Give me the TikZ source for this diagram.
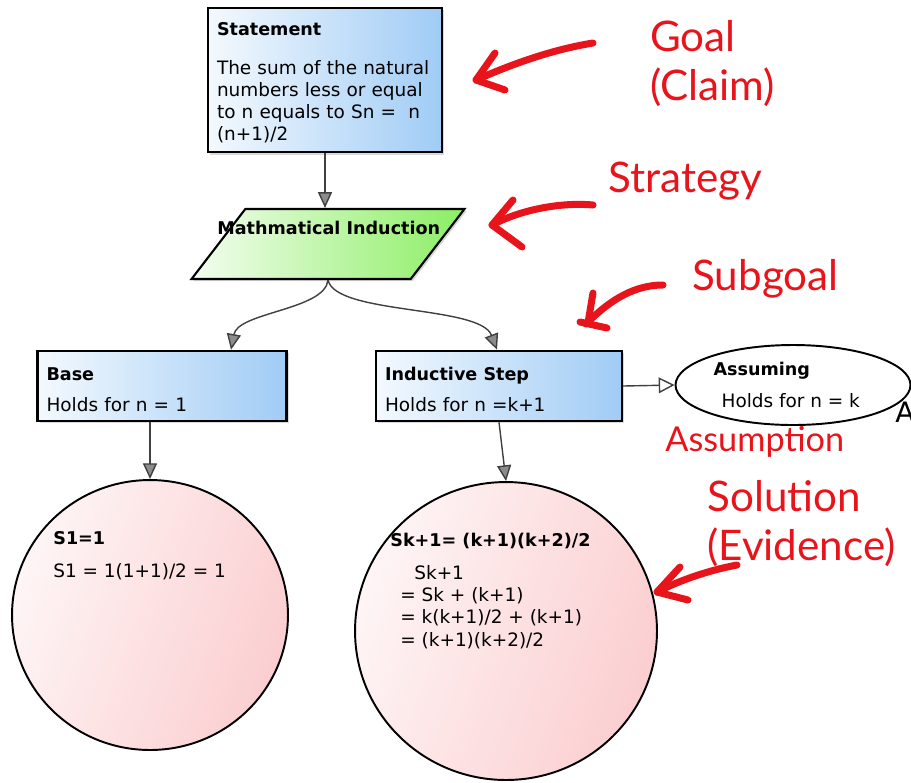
\documentclass[tikz,border=0pt]{standalone}
\usepackage{fontspec}
\setmainfont{DejaVu Sans}
\newfontfamily\notefont{Lato}
\usetikzlibrary{arrows.meta,shapes.geometric,shadows}
\definecolor{boxblue}{RGB}{160,204,245}
\definecolor{boxgreen}{RGB}{140,238,100}
\definecolor{solpink}{RGB}{251,206,208}
\definecolor{notered}{RGB}{232,20,28}
\newcommand\headtxt[1]{{\fontsize{10}{12}\selectfont\bfseries #1}}

\begin{document}
\begin{tikzpicture}[x=0.02cm,y=-0.02cm,
    font=\fontsize{10.5}{12.7}\selectfont,
    claimbox/.style={rectangle, draw=black, line width=1.2pt,
      left color=boxblue!12, right color=boxblue, inner sep=0.18cm, align=left,
      drop shadow={shadow xshift=1.2pt, shadow yshift=-1.2pt, opacity=.3}},
    stratbox/.style={trapezium, trapezium left angle=72, trapezium right angle=108,
      trapezium stretches=true, draw=black, line width=1.2pt,
      left color=boxgreen!10, right color=boxgreen,
      drop shadow={shadow xshift=1.2pt, shadow yshift=-1.2pt, opacity=.3}},
    solnode/.style={ellipse, draw=black, line width=1.1pt,
      left color=solpink!20, right color=solpink, shading angle=70},
    asmnode/.style={ellipse, draw=black, line width=1.1pt, fill=white, align=left, inner sep=0pt},
    txt/.style={inner sep=0, anchor=base west, align=left},
    link/.style={draw=black!75, line width=0.8pt,
      -{Triangle[length=9pt, width=8pt, fill=black!45]}},
    note/.style={notered, inner sep=0, anchor=base west, align=left,
      font=\notefont\fontsize{24}{27.5}\selectfont},
    notearrow/.style={notered, line width=4pt, line cap=round, line join=round}]
  \useasboundingbox (0,0) rectangle (911,782);

  % goal and strategy
  \node[claimbox, minimum width=4.68cm, minimum height=2.8cm, text width=4.32cm] (stmt) at (325,80)
    {\headtxt{\rule{0pt}{11pt}Statement}\\[9pt]The sum of the natural\\numbers less or equal\\to n equals to Sn =\ \ n\\(n+1)/2};
  \node[stratbox, minimum width=5.46cm, minimum height=1.4cm] (strat) at (328,244) {};
  \node[txt] (strattxt) at (217,234) {\headtxt{Mathmatical Induction}};

  % subgoals
  \node[claimbox, minimum width=4.98cm, minimum height=1.36cm, text width=4.62cm] (base) at (162,386)
    {\headtxt{\rule{0pt}{12pt}Base}\\[5pt]Holds for n = 1};
  \node[claimbox, minimum width=4.92cm, minimum height=1.36cm, text width=4.56cm] (ind) at (499,386)
    {\headtxt{\rule{0pt}{12pt}Inductive Step}\\[5pt]Holds for n =k+1};
  \node[asmnode, minimum width=4.7cm, minimum height=1.6cm] (asm) at (793,385)
    {\headtxt{Assuming}\\[6pt]\hspace{0.16cm}Holds for n = k\hspace{0.25cm}\mbox{}};
  \node[txt, font=\fontsize{16}{18}\selectfont] (cut) at (895,422) {A};

  % solutions
  \node[solnode, minimum width=5.52cm, minimum height=5.4cm] (basesol) at (150,615) {};
  \node[txt] (basesoltxt) at (53,577) {\headtxt{S1=1}\\[6pt]S1 = 1(1+1)/2 = 1};
  \node[solnode, minimum width=6.04cm, minimum height=5.96cm] (indsol) at (506,631) {};
  \node[txt] (indsolhead) at (390,546) {\headtxt{Sk+1= (k+1)(k+2)/2}};
  \node[txt] (indsoltxt) at (400,646)
    {\hspace{0.28cm}Sk+1\\= Sk + (k+1)\\= k(k+1)/2 + (k+1)\\= (k+1)(k+2)/2};

  % connectors
  \draw[link] (stmt.south) -- (stmt.south |- strat.north);
  \draw[link] (strat.south) .. controls (325,310) and (238,312) .. (base.north -| 231,0);
  \draw[link] (strat.south) .. controls (336,315) and (480,305) .. (ind.north -| 497,0);
  \draw[link] (basesol.north |- base.south) -- (basesol.north);
  \draw[link] (ind.south) -- (indsol.north);
  \draw[draw=black!75, line width=0.8pt, -{Triangle[length=9pt, width=9pt, fill=white]}] (ind.east) -- (asm.west);

  % red notes
  \node[note] (goal) at (650,100) {Goal\\(Claim)};
  \node[note] (strategy) at (608,192) {Strategy};
  \node[note] (subgoal) at (692,290) {Subgoal};
  \node[note, font=\notefont\fontsize{19.5}{22}\selectfont] (assumption) at (665,451) {Assumption};
  \node[note] (solution) at (707,560) {Solution\\(Evidence)};

  \draw[notearrow] (593,43) .. controls (550,50) and (510,65) .. (476,80);
  \draw[notearrow] (495,53) -- (476,80) -- (505,90);
  \draw[notearrow] (593,205) .. controls (560,202) and (520,210) .. (492,225);
  \draw[notearrow] (513,200) -- (492,225) -- (522,247);
  \draw[notearrow] (663,285) .. controls (630,285) and (605,305) .. (586,324);
  \draw[notearrow] (593,293) -- (588,323);
  \draw[notearrow] (580,322) -- (607,328);
  \draw[notearrow] (737,565) .. controls (710,570) and (680,580) .. (657,592);
  \draw[notearrow] (680,567) -- (657,592) -- (688,600);
\end{tikzpicture}
\end{document}
